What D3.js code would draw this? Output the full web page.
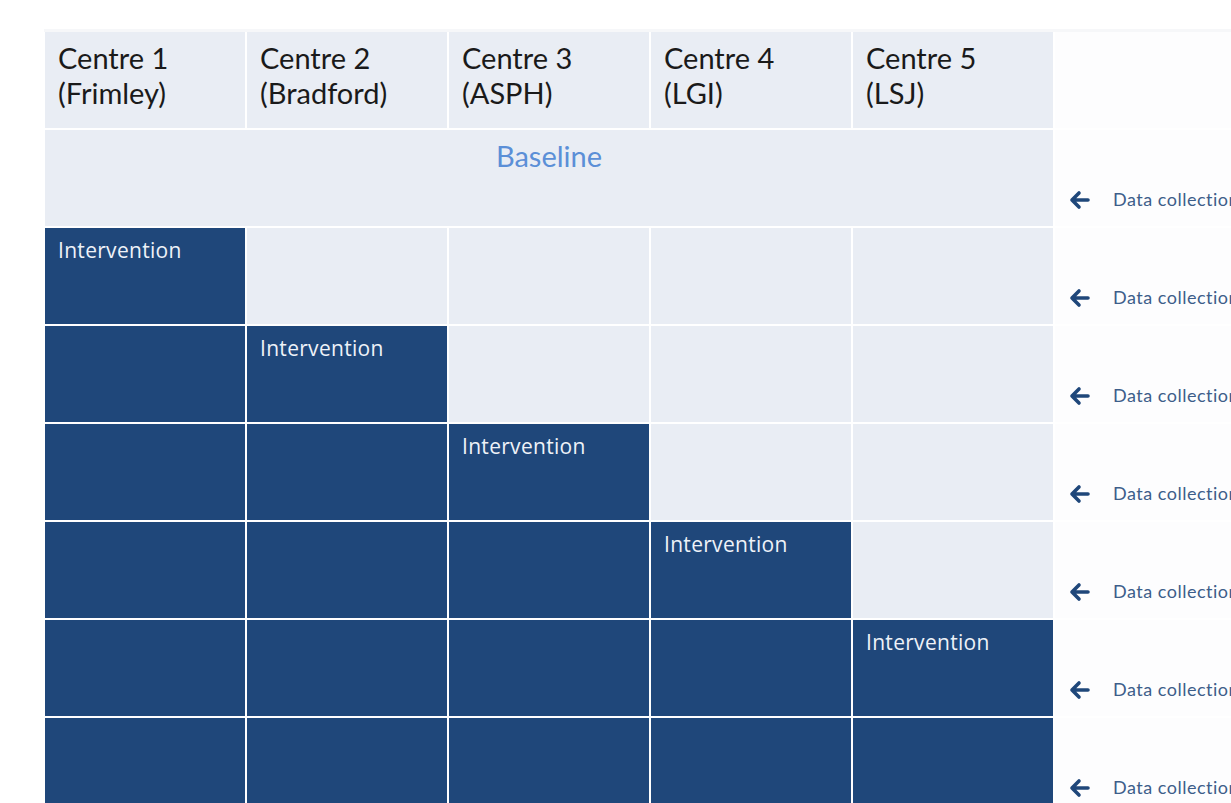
<!DOCTYPE html>
<html>
<head>
<meta charset="utf-8">
<script src="https://cdn.jsdelivr.net/npm/d3@7"></script>
<style>
  body { margin: 0; background: #ffffff; }
  svg { display: block; }
</style>
</head>
<body>
<div id="chart"></div>
<script>
// Centres (columns) and the step at which each one switches to intervention
var centres = ['Centre 1', 'Centre 2', 'Centre 3', 'Centre 4', 'Centre 5'];
var sites = ['(Frimley)', '(Bradford)', '(ASPH)', '(LGI)', '(LSJ)'];
var interventionStep = [1, 2, 3, 4, 5];

// Periods (rows) below the header; step 0 is baseline
var periods = ['Baseline', 'Step 1', 'Step 2', 'Step 3', 'Step 4', 'Step 5', 'Step 6'];
var periodStep = [0, 1, 2, 3, 4, 5, 6];
var collectionLabel = 'Data collection';

var width = 1231,
    height = 803;

var svg = d3.select('#chart')
    .append('svg')
    .attr('width', width)
    .attr('height', height);

// Scales
var x = d3.scaleBand()
    .domain(centres)
    .range([44, 1054]);

var y = d3.scaleBand()
    .domain(['header'].concat(periods))
    .range([31, 31 + 8 * 98]);

var dark = '#1f477a',
    light = '#e9edf4',
    gap = 1;

// faint shadow above the header
svg.append('rect')
    .attr('x', x.range()[0])
    .attr('y', y('header') - 2)
    .attr('width', width - x.range()[0])
    .attr('height', 3)
    .attr('fill', '#f6f7f9');

// Right-hand column (faint rows)
svg.selectAll('.side')
    .data(['header'].concat(periods))
    .enter()
    .append('rect')
    .attr('class', 'side')
    .attr('x', 1054 + gap)
    .attr('y', function(d) { return y(d) + gap; })
    .attr('width', width - 1054)
    .attr('height', y.bandwidth() - 2 * gap)
    .attr('fill', '#fdfdfe');

// Header cells
var header = svg.selectAll('.head')
    .data(centres)
    .enter()
    .append('g')
    .attr('class', 'head');

header.append('rect')
    .attr('x', function(d) { return x(d) + gap; })
    .attr('y', y('header') + gap)
    .attr('width', x.bandwidth() - 2 * gap)
    .attr('height', y.bandwidth() - 2 * gap)
    .attr('fill', light);

header.append('text')
    .attr('x', function(d) { return x(d) + 14; })
    .attr('y', y('header') + 38)
    .attr('font-family', 'Lato, "Open Sans", sans-serif')
    .attr('font-size', 29)
    .attr('fill', '#1a1a1a')
    .text(function(d) { return d; });

header.append('text')
    .attr('x', function(d) { return x(d) + 14; })
    .attr('y', y('header') + 73)
    .attr('font-family', 'Lato, "Open Sans", sans-serif')
    .attr('font-size', 29)
    .attr('fill', '#1a1a1a')
    .text(function(d, i) { return sites[i]; });

// Baseline spans all centres
svg.append('rect')
    .attr('x', x.range()[0] + gap)
    .attr('y', y('Baseline') + gap)
    .attr('width', x.range()[1] - x.range()[0] - 2 * gap)
    .attr('height', y.bandwidth() - 2 * gap)
    .attr('fill', light);

svg.append('text')
    .attr('x', (x.range()[0] + x.range()[1]) / 2)
    .attr('y', y('Baseline') + 38)
    .attr('text-anchor', 'middle')
    .attr('font-family', 'Lato, "Open Sans", sans-serif')
    .attr('font-size', 29)
    .attr('fill', '#5b8fd7')
    .text('Baseline');

// Step cells
var cells = [];
periods.forEach(function(p, r) {
    if (periodStep[r] === 0) return;
    centres.forEach(function(c, i) {
        cells.push({
            period: p,
            centre: c,
            on: periodStep[r] >= interventionStep[i],
            first: periodStep[r] === interventionStep[i]
        });
    });
});

var cell = svg.selectAll('.cell')
    .data(cells)
    .enter()
    .append('g')
    .attr('class', 'cell');

cell.append('rect')
    .attr('x', function(d) { return x(d.centre) + gap; })
    .attr('y', function(d) { return y(d.period) + gap; })
    .attr('width', x.bandwidth() - 2 * gap)
    .attr('height', y.bandwidth() - 2 * gap)
    .attr('fill', function(d) { return d.on ? dark : light; });

cell.filter(function(d) { return d.first; })
    .append('text')
    .attr('x', function(d) { return x(d.centre) + 14; })
    .attr('y', function(d) { return y(d.period) + 31; })
    .attr('font-family', '"Open Sans", sans-serif')
    .attr('font-size', 21)
    .attr('letter-spacing', 0.3)
    .attr('fill', '#eef2f8')
    .text('Intervention');

// Data collection markers
var marker = svg.selectAll('.marker')
    .data(periods)
    .enter()
    .append('g')
    .attr('class', 'marker')
    .attr('transform', function(d) {
        return 'translate(1070,' + (y(d) + y.bandwidth() - 27) + ')';
    });

marker.append('path')
    .attr('d', 'M2,0 L9,-7 M2,0 L9,7 M2,0 L18,0')
    .attr('fill', 'none')
    .attr('stroke', dark)
    .attr('stroke-width', 3.6)
    .attr('stroke-linecap', 'round')
    .attr('stroke-linejoin', 'round');

marker.append('text')
    .attr('x', 43)
    .attr('y', 6)
    .attr('font-family', 'Lato, "Open Sans", sans-serif')
    .attr('font-size', 18)
    .attr('letter-spacing', 0.5)
    .attr('fill', '#3d5e8a')
    .text(collectionLabel);
</script>
</body>
</html>
